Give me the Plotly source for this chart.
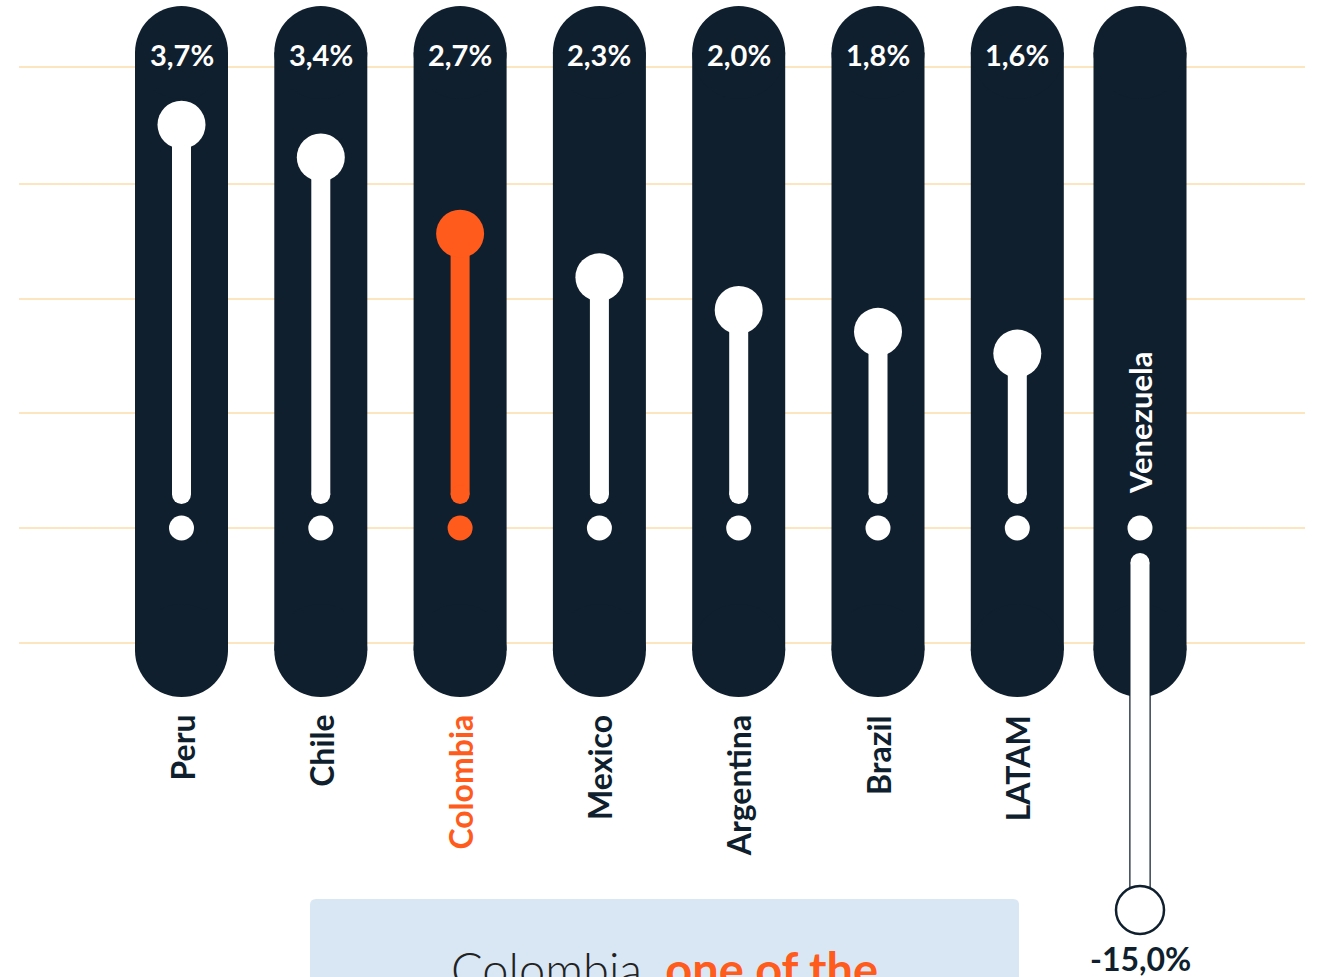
import plotly.graph_objects as go

# ---------------- data ----------------
countries = ["Peru", "Chile", "Colombia", "Mexico", "Argentina", "Brazil", "LATAM"]
growth = [3.7, 3.4, 2.7, 2.3, 2.0, 1.8, 1.6]
value_labels = ["3,7%", "3,4%", "2,7%", "2,3%", "2,0%", "1,8%", "1,6%"]
highlight = "Colombia"

outlier_country = "Venezuela"
outlier_value = -15.0
outlier_label = "-15,0%"

headline_plain = "Colombia, "
headline_bold = "one of the"

# ---------------- style / layout constants ----------------
W, H = 1318, 977
NAVY = "#0f1f2e"
ORANGE = "#ff5b1c"
WHITE = "#ffffff"
GRID = "#fcdcab"
BOX = "#d9e7f5"
FONT = "Lato"

X0_PX, STEP = 181.5, 139.3      # pixel of first column, column spacing
ZERO_PX, K = 528, 109           # pixel of zero, px per unit (main panel)
VEN_PX = 1140                   # pixel of the outlier column
K2 = (910 - ZERO_PX) / 15.0     # px per unit (outlier panel, broken scale)
GRID_PX = [67, 184, 299, 413, 528, 643]
PILL_W, PILL_TOP, PILL_BOT = 93, 6, 697


def py(p):
    return 1 - p / H


stem_base = (ZERO_PX - 494.5) / K
ven_stem_top = -(562.5 - ZERO_PX) / K2

fig = go.Figure()

shapes = []
# gridlines
for g in GRID_PX:
    shapes.append(dict(type="line", xref="paper", yref="paper", x0=19 / W, x1=1305 / W,
                       y0=py(g), y1=py(g), line=dict(color=GRID, width=1.4), layer="below"))


def pill(xref, xa):
    r = PILL_W / 2
    out = [dict(type="rect", xref=xref, yref="paper", xsizemode="pixel", xanchor=xa,
                x0=-r, x1=r, y0=py(PILL_TOP + r), y1=py(PILL_BOT - r),
                fillcolor=NAVY, line=dict(width=0), layer="below")]
    for c in (PILL_TOP + r, PILL_BOT - r):
        out.append(dict(type="circle", xref=xref, yref="paper", xsizemode="pixel",
                        ysizemode="pixel", xanchor=xa, yanchor=py(c), x0=-r, x1=r, y0=-r, y1=r,
                        fillcolor=NAVY, line=dict(width=0), layer="below"))
    return out


for i in range(len(countries)):
    shapes += pill("x", i)
shapes += pill("x2", 0)

# bottom headline box
bx0, bx1, by0 = 310, 1019, 899
rr = 6
path = (f"M {bx0/W},{py(H+20)} L {bx0/W},{py(by0+rr)} Q {bx0/W},{py(by0)} {(bx0+rr)/W},{py(by0)} "
        f"L {(bx1-rr)/W},{py(by0)} Q {bx1/W},{py(by0)} {bx1/W},{py(by0+rr)} L {bx1/W},{py(H+20)} Z")
shapes.append(dict(type="path", xref="paper", yref="paper", path=path, fillcolor=BOX,
                   line=dict(width=0), layer="below"))

# stems and value circles
for i, (c, v) in enumerate(zip(countries, growth)):
    col = ORANGE if c == highlight else WHITE
    fig.add_trace(go.Scatter(x=[i, i], y=[stem_base, v], mode="lines+markers",
                             line=dict(color=col, width=19),
                             marker=dict(color=col, size=[19, 48], opacity=1, line=dict(width=0)),
                             hoverinfo="skip", showlegend=False))
    fig.add_trace(go.Scatter(x=[i], y=[0], mode="markers",
                             marker=dict(color=col, size=25, opacity=1, line=dict(width=0)),
                             hoverinfo="skip", showlegend=False))

# outlier column (own broken scale)
fig.add_trace(go.Scatter(x=[0], y=[0], mode="markers", xaxis="x2", yaxis="y2",
                         marker=dict(color=WHITE, size=25, opacity=1, line=dict(width=0)),
                         hoverinfo="skip", showlegend=False))
fig.add_trace(go.Scatter(x=[0, 0], y=[ven_stem_top, outlier_value], mode="lines", xaxis="x2", yaxis="y2",
                         line=dict(color=NAVY, width=21.5), hoverinfo="skip", showlegend=False))
fig.add_trace(go.Scatter(x=[0, 0], y=[ven_stem_top, outlier_value], mode="lines+markers", xaxis="x2", yaxis="y2",
                         line=dict(color=WHITE, width=19),
                         marker=dict(color=WHITE, size=[19, 0.1], opacity=1, line=dict(width=0)),
                         hoverinfo="skip", showlegend=False))
fig.add_trace(go.Scatter(x=[0], y=[outlier_value], mode="markers", xaxis="x2", yaxis="y2",
                         marker=dict(color=WHITE, size=48, opacity=1, line=dict(color=NAVY, width=2.5)),
                         hoverinfo="skip", showlegend=False))

annotations = []
for i, (c, lab) in enumerate(zip(countries, value_labels)):
    annotations.append(dict(x=i, xref="x", y=py(54), yref="paper", text=lab, showarrow=False,
                            xanchor="center", yanchor="middle",
                            font=dict(family=FONT, size=29, color=WHITE, weight=700)))
    annotations.append(dict(x=i, xref="x", y=py(713), yref="paper", text=c, showarrow=False,
                            textangle=-90, xanchor="center", yanchor="top",
                            font=dict(family=FONT, size=32, weight=700,
                                      color=ORANGE if c == highlight else NAVY)))

annotations.append(dict(x=0, xref="x2", y=py(423), yref="paper", text=outlier_country, showarrow=False,
                        textangle=-90, xanchor="center", yanchor="middle",
                        font=dict(family=FONT, size=31, color=WHITE, weight=700)))
annotations.append(dict(x=0, xref="x2", y=py(958), yref="paper", text=outlier_label, showarrow=False,
                        xanchor="center", yanchor="middle",
                        font=dict(family=FONT, size=32, color=NAVY, weight=700)))
annotations.append(dict(x=664 / W, xref="paper", y=py(969), yref="paper",
                        text=f"{headline_plain}<span style='color:{ORANGE}'><b>{headline_bold}</b></span>",
                        showarrow=False, xanchor="center", yanchor="middle",
                        font=dict(family=FONT, size=47, color="#222222", weight=300)))

ax_common = dict(showgrid=False, zeroline=False, showticklabels=False, showline=False, ticks="")
fig.update_layout(
    width=W, height=H, margin=dict(l=0, r=0, t=0, b=0),
    paper_bgcolor=WHITE, plot_bgcolor=WHITE,
    xaxis=dict(range=[-X0_PX / STEP, (W - X0_PX) / STEP], **ax_common),
    yaxis=dict(range=[-(H - ZERO_PX) / K, ZERO_PX / K], **ax_common),
    xaxis2=dict(range=[-VEN_PX / STEP, (W - VEN_PX) / STEP], overlaying="x", anchor="y2", **ax_common),
    yaxis2=dict(range=[-(H - ZERO_PX) / K2, ZERO_PX / K2], overlaying="y", anchor="x2", **ax_common),
    shapes=shapes, annotations=annotations, showlegend=False, hovermode=False,
)

fig.write_html("out.html", config={"displayModeBar": False})
